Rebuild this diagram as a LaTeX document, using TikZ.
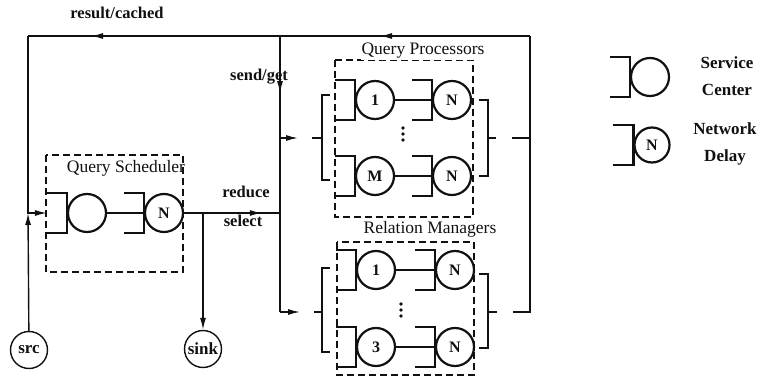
\documentclass[tikz,border=0pt]{standalone}
\usepackage{fontspec}
\setmainfont{Liberation Serif}
\usetikzlibrary{arrows.meta,decorations.markings}
\definecolor{ink}{HTML}{111111}

\tikzset{
  buffer/.pic={
    \draw[queue] (-20,-20) -- (0,-20) -- (0,20) -- (-20,20);
    \coordinate (-v) at (0,0);
    \coordinate (-in) at (-20,0);
  },
  vdots/.pic={
    \foreach \dy in {-6,0,6}
      \fill[ink] (0,\dy) circle (1.8pt);
  }
}

\begin{document}
\begin{tikzpicture}[
  x=1pt, y=-1pt,
  link/.style={draw=ink, line width=1.4pt},
  queue/.style={draw=ink, line width=2.2pt},
  srv/.style={
    circle, draw=ink, line width=2.2pt, minimum size=38pt, inner sep=0pt,
    font=\fontsize{16}{18}\selectfont\bfseries, text=ink
  },
  term/.style={
    circle, draw=ink, line width=1.4pt, minimum size=37pt, inner sep=0pt,
    font=\fontsize{17}{19}\selectfont\bfseries, text=ink
  },
  group/.style={draw=ink, line width=1.4pt, dash pattern=on 7pt off 4pt},
  tip/.style={-{Latex[length=12pt,width=6pt]}},
  midarrow/.style={
    postaction={decorate},
    decoration={markings, mark=at position #1 with {\arrow{Latex[length=12pt,width=6pt]}}}
  },
  title/.style={font=\fontsize{17.5}{20}\selectfont, text=ink},
  lbl/.style={font=\fontsize{16.5}{19}\selectfont\bfseries, text=ink}
]
\useasboundingbox (0,0) rectangle (758,377);

% query scheduler
\draw[group] (46,155) rectangle (183,272);
\node[title] (qsT) at (126,168) {Query Scheduler};
\node[srv] (qs1) at (87,213) {};
\node[srv] (qsN) at (164,213) {N};
\pic (qsb1) at (qs1.west) {buffer};
\pic (qsbN) at (qsN.west) {buffer};
\draw[link] (qs1) -- (qsbN-v);

% query processors
\draw[group] (335,60) rectangle (473,217);
\node[title, fill=white, inner sep=1pt] (qpT) at (423,51) {Query Processors};
\node[srv] (qp1) at (375,100) {1};
\node[srv] (qp1N) at (452,100) {N};
\node[srv] (qpM) at (375,176) {M};
\node[srv] (qpMN) at (452,176) {N};
\pic (qpb1) at (qp1.west) {buffer};
\pic (qpb1N) at (qp1N.west) {buffer};
\pic (qpbM) at (qpM.west) {buffer};
\pic (qpbMN) at (qpMN.west) {buffer};
\draw[link] (qp1) -- (qpb1N-v);
\draw[link] (qpM) -- (qpbMN-v);
\pic (qpDots) at (403,134) {vdots};
\draw[link] (330,95) -- (322,95) -- (322,180) -- (330,180);
\draw[link] (479,100) -- (488,100) -- (488,176) -- (479,176);

% relation managers
\draw[group] (337,242) rectangle (474,375);
\node[title] (rmT) at (430,229) {Relation Managers};
\node[srv] (rm1) at (376,270) {1};
\node[srv] (rm1N) at (455,270) {N};
\node[srv] (rm3) at (376,347) {3};
\node[srv] (rm3N) at (455,347) {N};
\pic (rmb1) at (rm1.west) {buffer};
\pic (rmb1N) at (rm1N.west) {buffer};
\pic (rmb3) at (rm3.west) {buffer};
\pic (rmb3N) at (rm3N.west) {buffer};
\draw[link] (rm1) -- (rmb1N-v);
\draw[link] (rm3) -- (rmb3N-v);
\pic (rmDots) at (401,310) {vdots};
\draw[link] (330,268) -- (322,268) -- (322,352) -- (330,352);
\draw[link] (479,274) -- (488,274) -- (488,348) -- (479,348);

% source and sink
\node[term] (src) at (29,350) {src};
\node[term] (sink) at (203,349) {sink};

% junctions
\coordinate (tl) at (28,36);
\coordinate (tm) at (280,36);
\coordinate (tr) at (530,36);
\coordinate (ml) at (28,213);
\coordinate (mm) at (280,213);
\coordinate (sk) at (203,213);
\coordinate (qpJ) at (280,138);
\coordinate (qpA) at (298,138);
\coordinate (qpB) at (312,138);
\coordinate (qpL) at (322,138);
\coordinate (qpR) at (488,138);
\coordinate (qpC) at (496,138);
\coordinate (qpD) at (512,138);
\coordinate (qpE) at (530,138);
\coordinate (rmJ) at (280,312);
\coordinate (rmA) at (300,312);
\coordinate (rmB) at (314,312);
\coordinate (rmL) at (322,312);
\coordinate (rmR) at (488,312);
\coordinate (rmC) at (497,312);
\coordinate (rmD) at (513,312);
\coordinate (rmE) at (530,312);

% connectors
\draw[link, midarrow=0.6] (tr) -- (tm);
\draw[link, midarrow=0.75] (tm) -- (tl);
\draw[link, tip] (tl) -- (ml) -- (qsb1-in);
\draw[link, tip] (src) -- (ml);
\draw[link, midarrow=0.81] (qsN) -- (mm);
\draw[link, tip] (sk) -- (sink);
\draw[link, midarrow=0.56] (tm) -- (qpJ);
\draw[link] (qpJ) -- (mm) -- (rmJ);
\draw[link, tip] (qpJ) -- (qpA);
\draw[link] (qpB) -- (qpL);
\draw[link, tip] (rmJ) -- (rmA);
\draw[link] (rmB) -- (rmL);
\draw[link] (qpR) -- (qpC);
\draw[link] (qpD) -- (qpE);
\draw[link] (rmR) -- (rmC);
\draw[link] (rmD) -- (rmE) -- (tr);

% labels
\node[lbl] (resL) at (117,13) {result/cached};
\node[lbl] (sendL) at (259,77) {send/get};
\node[lbl] (redL) at (246,192) {reduce};
\node[lbl] (selL) at (243,221) {select};

% legend
\node[srv] (lgS) at (650,77) {};
\pic (lgSb) at (lgS.west) {buffer};
\node[srv, minimum size=35pt] (lgN) at (652,145) {N};
\pic (lgNb) at (lgN.west) {buffer};
\node[lbl, align=center, font=\fontsize{17}{27}\selectfont\bfseries] (lgST) at (727,76) {Service\\Center};
\node[lbl, align=center, font=\fontsize{17}{27}\selectfont\bfseries] (lgNT) at (725,144) {Network\\Delay};

\end{tikzpicture}
\end{document}
